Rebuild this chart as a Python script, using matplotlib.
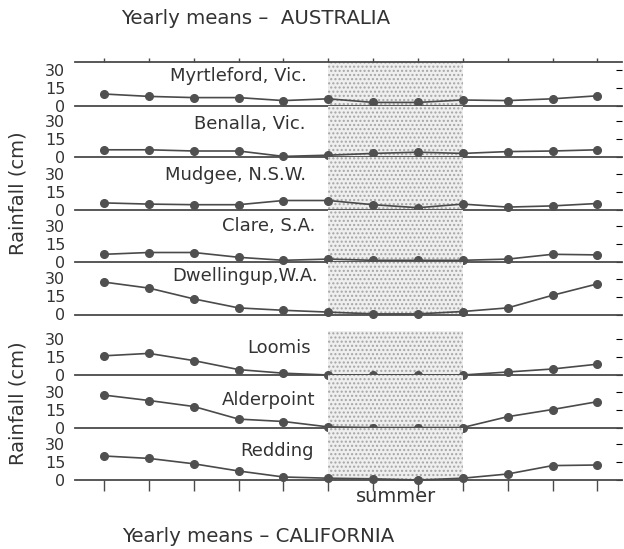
import matplotlib.pyplot as plt

plt.rcParams['font.family'] = ['DejaVu Sans']

months = list(range(12))

# Australia (cm)
aus_names = ['Myrtleford, Vic.', 'Benalla, Vic.', 'Mudgee, N.S.W.', 'Clare, S.A.', 'Dwellingup,W.A.']
myrtleford = [10, 8, 7, 7, 4.5, 6, 3, 3, 5, 4.5, 6, 8.5]
benalla = [6, 6, 5, 5, 0.5, 1.5, 3, 4, 3, 4.5, 5, 6]
mudgee = [5.5, 4.5, 4, 4, 7.5, 7.5, 4, 1.5, 4.5, 2, 3, 5]
clare = [6, 7.5, 7.5, 3.5, 1, 2, 1, 1, 1, 2, 6, 5.5]
dwellingup = [27, 22, 13, 5.5, 3.5, 2, 0.5, 0.5, 2.5, 5.5, 16, 25.5]

# California (cm)
cal_names = ['Loomis', 'Alderpoint', 'Redding']
loomis = [16, 18, 12, 4.5, 1.5, 0, 0, 0, 0, 2.5, 5, 9]
alderpoint = [27, 22.5, 17.5, 7, 5, 0.5, 0, 0, 0, 9, 15, 21.5]
redding = [20, 18, 13.5, 7.5, 2.5, 1.5, 1, 0, 1.5, 5, 12, 12.5]

summer = (5, 8)
yticks = [0, 15, 30]

W, H = 624, 549
fig = plt.figure(figsize=(W / 100, H / 100), dpi=100)

LEFT, RIGHT = 75, 622
PX_PER_CM = 1.2
LINE = '#4a4a4a'
TXT = '#333333'


def fx(px):
    return px / W


def fy(py):
    return 1 - py / H


def make_panel(top, bottom, values, name, name_x, name_y, first, last):
    ax = fig.add_axes([fx(LEFT), fy(bottom), fx(RIGHT) - fx(LEFT), (bottom - top) / H])
    ax.patch.set_visible(False)
    ax.set_xlim(-0.65, 11.55)
    ax.set_ylim(0, (bottom - top) / PX_PER_CM)
    ax.axvspan(summer[0], summer[1], facecolor='#efefef', edgecolor='#a5a5a5',
               hatch='....', linewidth=0, zorder=0)
    ax.plot(months, values, color=LINE, lw=1.2, marker='o', ms=5.5,
            mfc='#505050', mec='#505050', clip_on=False, zorder=3)
    for s in ['left', 'right']:
        ax.spines[s].set_visible(False)
    for s in ['top', 'bottom']:
        ax.spines[s].set_color(LINE)
        ax.spines[s].set_linewidth(1.3)
    ax.spines['top'].set_visible(first)
    ax.set_yticks(yticks)
    ax.set_yticklabels([str(t) for t in yticks])
    ax.yaxis.set_ticks_position('both')
    ax.tick_params(axis='y', direction='in', length=0, labelsize=11.5,
                   pad=7, labelcolor=TXT)
    for tl in ax.yaxis.get_ticklines()[1::2]:
        tl.set_markersize(4)
        tl.set_color('#666666')
    ax.set_xticks(months)
    ax.tick_params(axis='x', labelbottom=False, labeltop=False,
                   bottom=last, top=first, direction='out',
                   length=8 if last else 3, color=LINE, width=1.0)
    fig.text(fx(name_x), fy(name_y), name, ha='right', va='center',
             fontsize=13, color=TXT)
    return ax


aus_vals = [myrtleford, benalla, mudgee, clare, dwellingup]
aus_bounds = [62, 106, 157, 209.5, 261.5, 314.5]
aus_name_pos = [(307, 76), (306, 124), (306, 175), (315, 226), (318, 276)]
for i, (vals, nm) in enumerate(zip(aus_vals, aus_names)):
    make_panel(aus_bounds[i], aus_bounds[i + 1], vals, nm,
               aus_name_pos[i][0], aus_name_pos[i][1],
               first=(i == 0), last=False)

cal_vals = [loomis, alderpoint, redding]
cal_bounds = [331, 375, 427.5, 480]
cal_name_pos = [(311, 348), (315, 400), (314, 451)]
for i, (vals, nm) in enumerate(zip(cal_vals, cal_names)):
    make_panel(cal_bounds[i], cal_bounds[i + 1], vals, nm,
               cal_name_pos[i][0], cal_name_pos[i][1],
               first=False, last=(i == len(cal_vals) - 1))

fig.text(fx(18), fy(193), 'Rainfall (cm)', rotation=90, ha='center', va='center',
         fontsize=14, color=TXT)
fig.text(fx(18), fy(403), 'Rainfall (cm)', rotation=90, ha='center', va='center',
         fontsize=14, color=TXT)
fig.text(fx(256), fy(18), 'Yearly means \u2013  AUSTRALIA', ha='center', va='center',
         fontsize=14.2, color=TXT)
fig.text(fx(258), fy(537), 'Yearly means \u2013 CALIFORNIA', ha='center', va='center',
         fontsize=14.2, color=TXT)
fig.text(fx(396), fy(496), 'summer', ha='center', va='center',
         fontsize=14, color=TXT)

fig.savefig('out.png', dpi=100)
